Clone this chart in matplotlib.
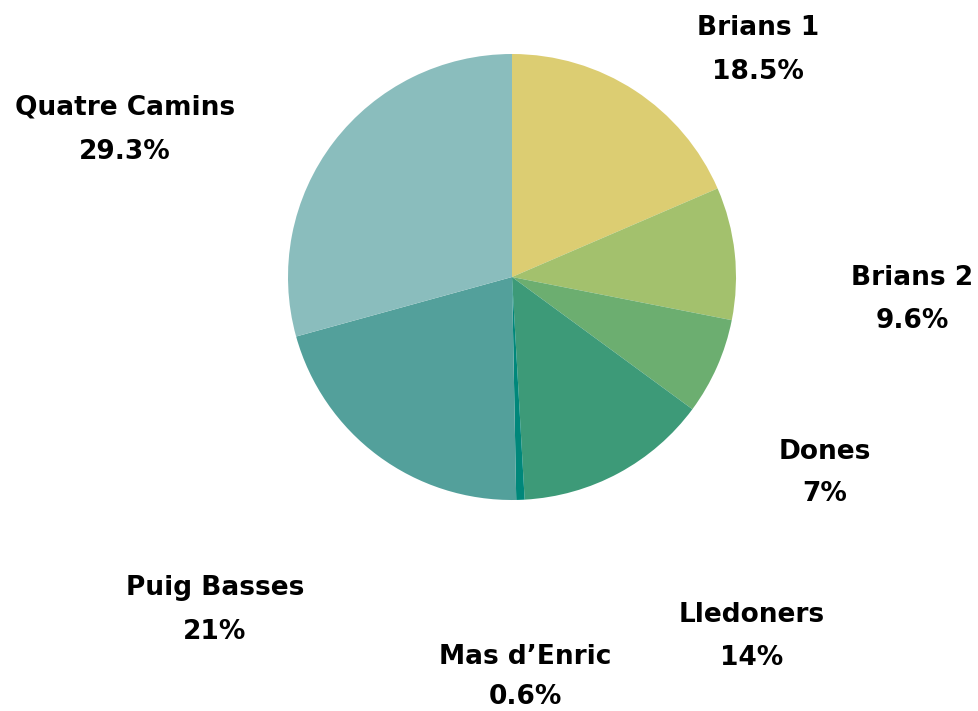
import matplotlib.pyplot as plt

prisons = ["Brians 1", "Brians 2", "Dones", "Lledoners", "Mas d\u2019Enric",
           "Puig Basses", "Quatre Camins"]
shares = [18.5, 9.6, 7, 14, 0.6, 21, 29.3]
colors = ["#DCCD72", "#A3C16D", "#6CAE70", "#3D9A78", "#00877A",
          "#53A09B", "#8ABDBD"]

# label centres in pixels (x, y of name line, y of value line)
label_pos = [(758, 28, 72), (912, 278, 321), (825, 452, 494), (752, 615, 658),
             (525, 657, 697), (215, 588, 632), (125, 108, 152)]

W, H = 979, 711
fig = plt.figure(figsize=(W / 100, H / 100), dpi=100)
ax = fig.add_axes([288 / W, (H - 500) / H, 448 / W, 446 / H])
ax.pie(shares, colors=colors, startangle=90, counterclock=False,
       wedgeprops=dict(linewidth=0))
ax.set_xlim(-1, 1)
ax.set_ylim(-1, 1)
ax.set_aspect("auto")
ax.axis("off")

for name, val, (x, y1, y2) in zip(prisons, shares, label_pos):
    fig.text(x / W, 1 - y1 / H, name, ha="center", va="center",
             fontsize=19, fontweight="bold", family="DejaVu Sans")
    fig.text(x / W, 1 - y2 / H, f"{val:g}%", ha="center", va="center",
             fontsize=19, fontweight="bold", family="DejaVu Sans")

fig.savefig("out.png", dpi=100)
